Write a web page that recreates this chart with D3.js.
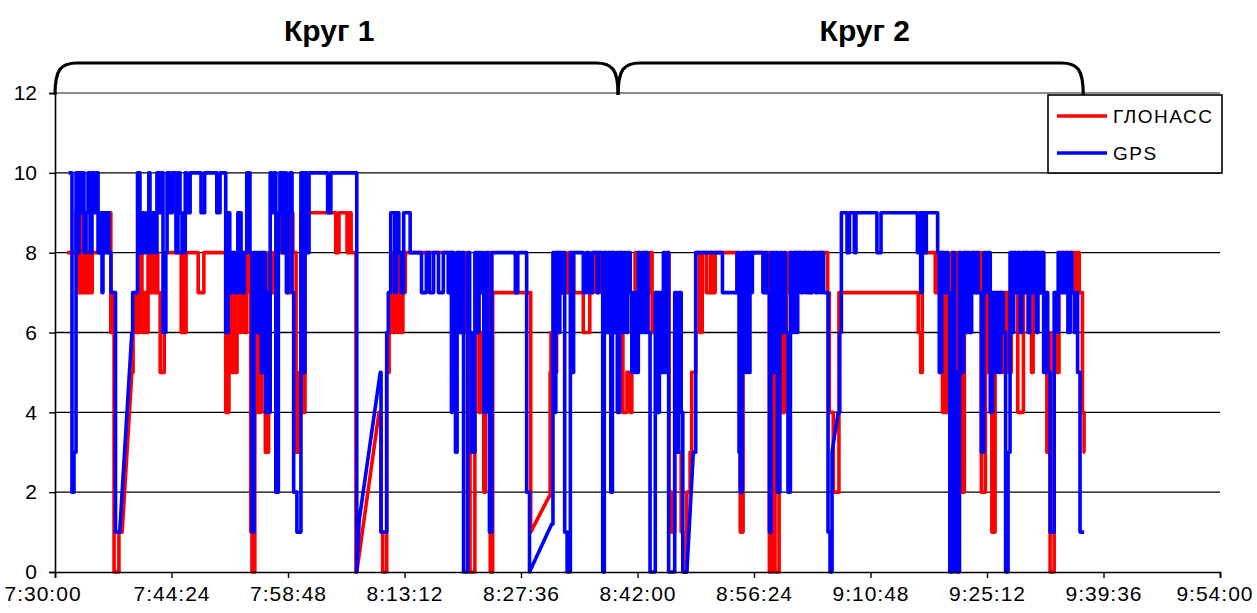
<!DOCTYPE html>
<html><head><meta charset="utf-8">
<script src="https://cdn.jsdelivr.net/npm/d3@7"></script>
<style>
body{margin:0;background:#fff;}
svg{display:block;font-family:"Liberation Sans",Arial,sans-serif;}
</style>
</head><body>
<svg id="chart" width="1257" height="613"></svg>
<script>
// ---- data (time = minutes after 7:30:00, value = number of satellites) ----
const seriesNames = ["ГЛОНАСС", "GPS"];
const seriesColors = ["#ff0000", "#0000ff"];
const yTicks = [0, 2, 4, 6, 8, 10, 12];
const xTickMinutes = [0, 14.4, 28.8, 43.2, 57.6, 72, 86.4, 100.8, 115.2, 129.6, 144];
const xTickLabels = ["7:30:00", "7:44:24", "7:58:48", "8:13:12", "8:27:36", "8:42:00", "8:56:24", "9:10:48", "9:25:12", "9:39:36", "9:54:00"];
const lapNames = ["Круг 1", "Круг 2"];
const lapBounds = [0, 69.6, 127.1];
const lapLabelAt = [33.9, 100.1];

// [minute, value] steps; a third element 1 marks a straight (interpolated) segment
const glonass = [
[1.5,8],[2.6,9],[2.85,7],[3.1,9],[3.3,7],[3.6,9],[3.8,7],[4.1,8],[4.3,7],[4.6,8],[5.6,9],[6.55,8],[6.8,9],[6.9,6],[7.2,7],[7.3,0],[7.9,1],[8.3,1],[9.5,5,1],[9.65,6],[9.9,7],[10.1,6],[10.4,7],[10.6,8],[10.75,6],[11.0,7],[11.25,6],[11.5,8],[11.7,7],[12.0,8],[12.2,7],[12.5,8],[12.7,7],[13.0,5],[13.5,8],[15.6,6],[15.8,8],[16.0,6],[16.2,8],[17.7,7],[18.4,8],[21.1,4],[21.5,8],[21.8,5],[22.0,7],[22.3,5],[22.5,8],[22.8,6],[23.0,8],[23.4,6],[23.7,8],[24.1,7],[24.2,1],[24.35,0],[24.7,4],[25.0,6],[25.2,4],[25.5,8],[25.7,6],[26.0,3],[26.4,8],[26.8,7],[27.1,8],[27.3,2],[27.6,8],[28.0,9],[28.3,8],[28.7,7],[29.05,9],[29.4,8],[29.8,3],[30.2,5],[30.4,9],[30.7,4],[30.9,9],[34.7,8],[35.1,9],[36.1,8],[36.4,9],[36.6,8],[37.2,0],[37.3,0],[40.05,4,1],[40.3,1],[40.5,0],[41.0,5],[41.3,6],[41.5,8],[41.8,6],[42.0,7],[42.3,6],[42.5,8],[42.8,6],[43.0,7],[43.3,8],
[49.2,7],[49.4,6],[49.7,8],[50.0,7],[50.2,6],[50.5,8],[50.7,6],[51.1,3],[51.3,0],[51.9,6],[52.2,8],[52.4,4],[52.7,6],[53.0,2],[53.2,6],[53.5,8],[53.8,0],[54.1,7],[58.8,1],[61.1,1.9,1],[61.2,5],[61.3,6],[61.5,5],[62.0,8],[62.4,7],[62.8,8],[63.1,7],[63.5,8],[64.1,7],[65.3,6],[66.1,7],[66.6,8],[67.0,7],[67.2,8],[67.5,7],[67.9,8],[68.4,6],[68.7,8],[69.2,7],[69.6,8],[70.0,6],[70.2,4],[70.7,5],[71.1,4],[71.3,7],[71.7,8],[72.2,7],[72.7,8],[73.2,7],[73.55,8],[73.8,6],[74.2,7],[74.6,5],[74.9,7],[75.3,6],[75.7,8],[75.9,2],[76.2,1],[76.6,6],[77.0,3],[77.4,1],[77.6,0],[78.1,2],[78.5,3],[78.7,5],[79.2,8],[79.7,6],[80.0,8],[80.5,7],[81.0,8],[81.2,7],[81.6,8],[84.3,7],[84.55,8],[84.7,1],[85.05,7],[85.4,8],[85.7,7],[85.9,8],[87.8,7],[88.0,8],[88.3,0],[88.6,5],[89.0,0],[89.5,6],[89.8,4],[90.2,6],[90.4,7],[90.7,8],[91.0,7],[91.3,8],[93.1,7],[93.6,8],[95.5,7],[95.7,4],[96.2,2],[96.9,7],
[106.7,6],[107.0,5],[107.2,8],[108.8,7],[109.2,8],[109.7,4],[110.1,7],[110.3,4],[110.5,6],[110.8,8],[111.0,1],[111.5,8],[111.9,5],[112.1,2],[112.4,8],[112.9,7],[113.3,8],[113.8,7],[114.1,8],[114.5,2],[115.0,7],[115.3,5],[115.6,7],[115.8,1],[116.2,7],[116.6,6],[116.8,7],[117.2,5],[117.4,7],[117.8,5],[118.2,8],[118.7,7],[119.0,4],[119.7,8],[120.3,6],[120.7,5],[120.9,8],[121.5,7],[121.9,8],[122.2,7],[122.6,3],[122.9,6],[123.0,0],[123.5,6],[123.7,5],[124.1,8],[126.1,7],[126.4,8],[126.6,7],[127.0,4],[127.2,3],[127.3,3]
];

const gps = [
[1.7,10],[2.1,2],[2.35,3],[2.6,10],[2.85,8],[2.97,10],[3.2,9],[3.34,10],[3.58,8],[3.83,9],[4.08,10],[4.33,8],[4.57,10],[4.82,9],[5.07,10],[5.32,8],[5.56,9],[5.81,7],[5.93,9],[6.18,8],[6.43,9],[6.67,8],[6.92,7],[7.48,1],[8.0,1],[9.5,6,1],[9.6,7],[10.2,10],[10.5,8],[10.7,9],[11.0,8],[11.3,9],[11.6,10],[11.74,8],[12.0,9],[12.4,8],[12.6,10],[12.9,9],[13.1,10],[13.35,6],[13.7,8],[13.85,10],[14.2,9],[14.5,10],[14.95,8],[15.2,10],[15.45,9],[15.7,8],[16.1,10],[16.3,9],[16.7,10],[18.05,9],[18.5,10],[20.0,9],[20.4,10],[21.1,6],[21.4,9],[21.6,7],[22.0,8],[22.25,7],[22.6,9],[23.0,7],[23.4,8],[23.7,10],[24.1,8],[24.35,1],[24.6,8],
[25.0,6],[25.2,8],[25.5,5],[25.7,8],[26.0,4],[26.2,7],[26.4,4],[26.6,10],[26.8,9],[27.1,10],[27.3,2],[27.6,9],[27.8,10],[28.1,8],[28.3,10],[28.6,7],[28.8,9],[29.05,10],[29.3,7],[29.5,2],[29.9,1],[30.4,10],[30.7,5],[30.9,10],[31.15,8],[31.4,10],[33.7,9],[34.1,10],[37.3,0],[37.6,1.3,1],[40.2,5,1],[40.3,1],[41.0,6],[41.2,7],[41.5,9],[42.0,7],[42.2,9],[42.5,8],[42.8,7],[43.1,9],[43.9,8],[45.3,7],[45.9,8],[46.3,7],[46.8,8],[47.4,7],[48.0,8],[48.6,7],[48.8,8],
[49.0,4],[49.1,8],[49.3,6],[49.5,3],[49.7,8],[50.0,6],[50.2,8],[50.5,0],[51.0,8],[51.25,6],[51.5,3],[51.9,8],[52.1,6],[52.4,8],[52.65,7],[52.9,8],[53.0,4],[53.3,8],[53.5,6],[53.7,1],[54.0,8],[56.9,7],[57.2,8],[58.3,2],[58.65,0],[61.4,1.2,1],[61.55,8],[61.7,4],[61.9,8],[62.2,6],[62.4,8],[62.7,7],[62.9,8],[63.0,1],[63.3,0],[63.7,8],[63.8,5],[64.1,8],[65.3,7],[65.7,8],[66.0,7],[66.4,8],[67.0,7],[67.2,8],[67.7,0],[67.9,8],[68.1,6],[68.4,8],[68.7,2],[68.9,8],[69.1,6],[69.4,8],[69.5,4],[69.8,8],[70.1,6],[70.3,8],[70.6,6],[70.8,8],[71.1,7],[71.3,5],[71.6,7],[71.8,5],[72.1,8],[72.3,6],[72.6,8],[72.8,6],[73.1,8],[73.3,6],
[73.55,0],[74.2,7],[74.4,4],[74.7,7],[74.9,5],[75.2,8],[75.4,5],[75.7,8],[75.85,0],[76.6,7],[76.9,3],[77.1,7],[77.4,4],[77.6,0],[78.1,0],[78.9,3,1],[79.2,8],[82.5,7],[84.3,8],[84.55,3],[84.7,2],[84.95,8],[85.2,5],[85.4,8],[85.7,5],[85.9,8],[86.05,7],[86.2,8],[87.5,7],[87.8,8],[88.0,7],[88.3,1],[88.5,8],[88.8,5],[89.0,8],[89.3,2],[89.6,8],[89.8,6],[90.1,8],[90.3,6],[90.6,2],[90.9,8],[91.1,6],[91.4,8],[91.6,6],[91.8,8],[92.2,7],[92.5,8],[92.8,7],[93.1,8],[93.4,7],[93.6,8],[94.0,7],[94.3,8],[94.6,7],[94.8,8],[95.0,7],[95.55,1],[95.8,0],[96.05,3],[96.8,4,1],[97.0,6],[97.2,9],[97.9,8],[98.2,9],[98.8,8],[99.0,9],[101.6,8],[102.1,9],
[106.6,8],[106.9,9],[107.0,7],[107.2,9],[107.5,8],[107.7,9],[109.1,8],[109.3,5],[109.6,8],[109.9,7],[110.1,8],[110.4,7],[110.6,0],[111.0,8],[111.2,5],[111.4,0],[111.8,8],[112.0,5],[112.3,8],[112.5,6],[112.8,8],[113.0,6],[113.3,8],[113.6,7],[113.9,8],[114.1,7],[114.5,3],[114.8,8],[115.1,7],[115.3,8],[115.6,4],[115.9,7],[116.2,5],[116.4,7],[116.7,5],[116.9,7],[117.2,6],[117.5,0],[117.8,3],[118.05,8],[118.3,6],[118.5,8],[118.8,7],[119.0,8],[119.3,6],[119.5,8],[119.8,7],[120.0,8],[120.3,6],[120.5,8],[120.8,7],[121.0,8],[121.3,6],[121.5,8],[121.8,7],[122.0,8],[122.2,5],[122.5,7],[122.7,5],[123.0,1],[123.5,7],[123.7,6],[124.0,8],[124.2,7],[124.5,8],[124.7,7],[125.0,8],[125.2,6],[125.5,8],[125.7,7],[126.0,6],[126.2,7],[126.4,5],[126.7,1],[127.2,1]
];

// ---- drawing ----
const svg = d3.select("#chart");
const x = d3.scaleLinear().domain([0, 144]).range([55, 1220]);
const y = d3.scaleLinear().domain([0, 12]).range([572, 93]);

// gridlines
svg.append("g").selectAll("line").data(yTicks.filter(d => d > 0)).join("line")
  .attr("x1", x(0)).attr("x2", x(144))
  .attr("y1", d => y(d)).attr("y2", d => y(d))
  .attr("stroke", d => d === 12 ? "#8c8c8c" : "#000")
  .attr("stroke-width", d => d === 12 ? 2 : 1.4);

// series
function stepPoints(data) {
  const pts = [[data[0][0], data[0][1]]];
  for (let i = 1; i < data.length; i++) {
    const [t, v, r] = data[i];
    const prev = pts[pts.length - 1];
    if (!r) pts.push([t, prev[1]]);
    pts.push([t, v]);
  }
  return pts;
}
const line = d3.line().x(d => x(d[0])).y(d => y(d[1]));
[glonass, gps].forEach((s, i) => {
  svg.append("path").attr("d", line(stepPoints(s)))
    .attr("fill", "none").attr("stroke", seriesColors[i])
    .attr("stroke-width", 3.6).attr("stroke-linejoin", "round").attr("stroke-linecap", "butt");
});

// axes
const xAxis = d3.axisBottom(x).tickValues(xTickMinutes)
  .tickFormat((d, i) => xTickLabels[i]).tickSize(6).tickPadding(8);
const gx = svg.append("g").attr("transform", `translate(0,${y(0)})`).call(xAxis);
gx.select(".domain").attr("stroke", "#000").attr("stroke-width", 1.6);
gx.selectAll(".tick line").attr("stroke", "#000").attr("stroke-width", 1.4);
const nT = xTickLabels.length;
gx.selectAll(".tick text").attr("font-size", 21).attr("fill", "#000")
  .attr("font-family", "Liberation Sans, Arial, sans-serif").attr("letter-spacing", 1)
  .attr("text-anchor", (d, i) => i === 0 ? "start" : i === nT - 1 ? "end" : "middle")
  .attr("x", (d, i) => i === 0 ? -51 : i === nT - 1 ? 33 : 0);

const yAxis = d3.axisLeft(y).tickValues(yTicks).tickSize(6).tickPadding(12);
const gy = svg.append("g").attr("transform", `translate(${x(0)},0)`).call(yAxis);
gy.select(".domain").attr("stroke", "#000").attr("stroke-width", 1.6);
gy.selectAll(".tick line").attr("stroke", "#000").attr("stroke-width", 1.4);
gy.selectAll(".tick text").attr("font-size", 21).attr("fill", "#000")
  .attr("font-family", "Liberation Sans, Arial, sans-serif");

// lap brackets
const bTop = 63, bBase = 95, bR = 22;
lapNames.forEach((name, i) => {
  const x0 = x(lapBounds[i]), x1 = x(lapBounds[i + 1]);
  const p = d3.path();
  p.moveTo(x0, bBase);
  p.bezierCurveTo(x0, bTop + 6, x0 + 6, bTop, x0 + bR, bTop);
  p.lineTo(x1 - bR, bTop);
  p.bezierCurveTo(x1 - 6, bTop, x1, bTop + 6, x1, bBase);
  svg.append("path").attr("d", p.toString()).attr("fill", "none")
    .attr("stroke", "#000").attr("stroke-width", 3.2);
  svg.append("text").attr("x", x(lapLabelAt[i])).attr("y", 41)
    .attr("text-anchor", "middle").attr("font-size", 30).attr("font-weight", "bold")
    .attr("fill", "#000").text(name);
});

// legend
const lg = svg.append("g");
lg.append("rect").attr("x", 1048).attr("y", 95).attr("width", 174).attr("height", 78)
  .attr("fill", "#fff").attr("stroke", "#000").attr("stroke-width", 1.6);
seriesNames.forEach((n, i) => {
  const yy = 116 + i * 37;
  lg.append("line").attr("x1", 1057).attr("x2", 1107).attr("y1", yy).attr("y2", yy)
    .attr("stroke", seriesColors[i]).attr("stroke-width", 3.6);
  lg.append("text").attr("x", 1113).attr("y", yy).attr("dy", "0.36em")
    .attr("font-size", 19).attr("letter-spacing", 1.5).attr("fill", "#000").text(n);
});
</script>
</body></html>
